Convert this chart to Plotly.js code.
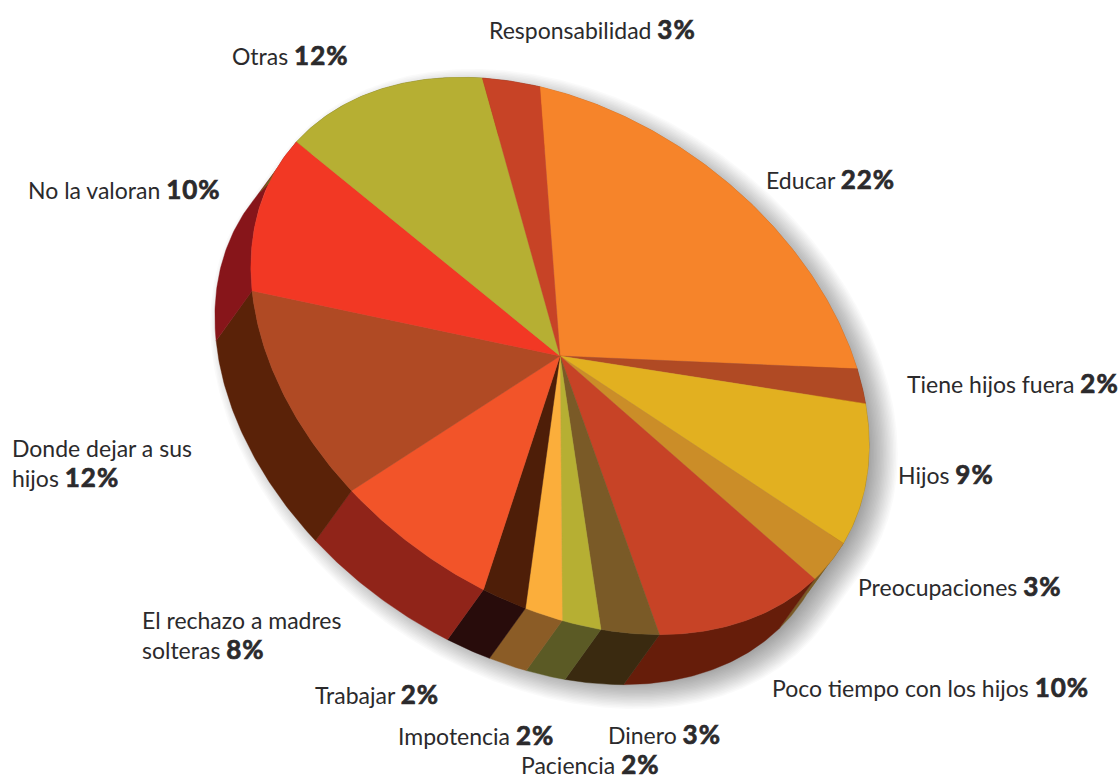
<!DOCTYPE html>
<html>
<head>
<meta charset="utf-8">
<script src="https://cdn.plot.ly/plotly-3.0.1.min.js"></script>
<style>html,body{margin:0;padding:0;background:#fff}#chart{width:1118px;height:779px}</style>
</head>
<body>
<div id="chart"></div>
<script>
var categories = ["Educar","Tiene hijos fuera","Hijos","Preocupaciones","Poco tiempo con los hijos","Dinero","Paciencia","Impotencia","Trabajar","El rechazo a madres<br>solteras","Donde dejar a sus<br>hijos","No la valoran","Otras","Responsabilidad"];
var values = [22,2,9,3,10,3,2,2,2,8,12,10,12,3];
var drawnShares = [21.6,2.0,9.0,3.05,10.2,3.1,2.0,1.9,2.2,7.8,11.8,10.2,12.2,3.0];

var topColors = ["#F6842A","#B04A24","#E2B020","#CB8D28","#C74326","#7A5A27","#B6AF33","#FBAE3B","#4E1E08","#F25429","#B04A24","#F23824","#B6AF33","#C74326"];
var wallColors = ["#B0601F","#7A3315","#8A6A12","#7A5A27","#661D0A","#3A2A10","#5B5A25","#8B5C26","#280C0B","#902419","#5A2208","#87151A","#6C6A20","#7A2A15"];

var labelX = [764,905,896,856,770,606,519,396,313,140,10,26,230,487];
var labelY = [179,383,474,586,687,734,764,735,694,635,463,189,55,29];

var cx = 560, cy = 356, semiA = 340, semiB = 240, tilt = 36 * Math.PI / 180;
var startAngle = -120.9, depthX = -36, depthY = 50;

function rim(deg, ox, oy) {
  var t = deg * Math.PI / 180, p = semiA * Math.cos(t), q = semiB * Math.sin(t);
  return [cx + ox + p * Math.cos(tilt) - q * Math.sin(tilt), cy + oy + p * Math.sin(tilt) + q * Math.cos(tilt)];
}
function arc(a0, a1, ox, oy) {
  var n = Math.max(2, Math.ceil(Math.abs(a1 - a0) * 1.5)), pts = [];
  for (var i = 0; i <= n; i++) pts.push(rim(a0 + (a1 - a0) * i / n, ox, oy));
  return pts;
}
function polyTrace(pts, fill, lineColor, lineWidth) {
  return {
    type: "scatter", mode: "lines", hoverinfo: "skip", showlegend: false, fill: "toself", fillcolor: fill,
    x: pts.map(function (p) { return p[0]; }).concat([pts[0][0]]),
    y: pts.map(function (p) { return p[1]; }).concat([pts[0][1]]),
    line: { color: lineColor, width: lineWidth }
  };
}
function hull(points) {
  var s = points.slice().sort(function (a, b) { return a[0] - b[0] || a[1] - b[1]; });
  function cross(o, a, b) { return (a[0] - o[0]) * (b[1] - o[1]) - (a[1] - o[1]) * (b[0] - o[0]); }
  var lo = [], up = [];
  s.forEach(function (p) { while (lo.length > 1 && cross(lo[lo.length - 2], lo[lo.length - 1], p) <= 0) lo.pop(); lo.push(p); });
  s.reverse().forEach(function (p) { while (up.length > 1 && cross(up[up.length - 2], up[up.length - 1], p) <= 0) up.pop(); up.push(p); });
  return lo.slice(0, -1).concat(up.slice(0, -1));
}

var total = drawnShares.reduce(function (a, b) { return a + b; }, 0);
var traces = [];

// soft shadow
var outline = hull(arc(0, 360, 0, 0).concat(arc(0, 360, depthX, depthY)));
var mx = cx + depthX / 2, my = cy + depthY / 2;
for (var k = 17; k >= -16; k -= 1.5) {
  var layer = outline.map(function (p) {
    var dx = p[0] - mx, dy = p[1] - my, d = Math.sqrt(dx * dx + dy * dy);
    return [p[0] + 12 + dx / d * k, p[1] + 8 + dy / d * k];
  });
  traces.push(polyTrace(layer, "rgba(0,0,0,0.021)", "rgba(0,0,0,0)", 0));
}

// walls then tops
var a = startAngle, spans = [];
drawnShares.forEach(function (v) { spans.push([a, a + v / total * 360]); a += v / total * 360; });
spans.forEach(function (s, i) {
  var pts = arc(s[0], s[1], 0, 0).concat(arc(s[1], s[0], depthX, depthY));
  traces.push(polyTrace(pts, wallColors[i], wallColors[i], 0.4));
});
spans.forEach(function (s, i) {
  var pts = [[cx, cy]].concat(arc(s[0], s[1], 0, 0));
  traces.push(polyTrace(pts, topColors[i], topColors[i], 0.4));
});

var annotations = categories.map(function (c, i) {
  return {
    xref: "x", yref: "y", x: labelX[i], y: labelY[i], xanchor: "left", yanchor: "middle", align: "left", showarrow: false,
    text: c + ' <span style="font-weight:700;font-size:26px;letter-spacing:1px;stroke:#2b2a2c;stroke-width:0.7px">' + values[i] + '%</span>'
  };
});

Plotly.newPlot("chart", traces, {
  width: 1118, height: 779,
  margin: { l: 0, r: 0, t: 0, b: 0 },
  paper_bgcolor: "#ffffff", plot_bgcolor: "#ffffff",
  showlegend: false, hovermode: false,
  font: { family: "Lato, 'Noto Sans', sans-serif", size: 23, color: "#2b2a2c" },
  xaxis: { range: [0, 1118], visible: false, fixedrange: true },
  yaxis: { range: [779, 0], visible: false, fixedrange: true },
  annotations: annotations
}, { displayModeBar: false, staticPlot: true });
</script>
</body>
</html>
